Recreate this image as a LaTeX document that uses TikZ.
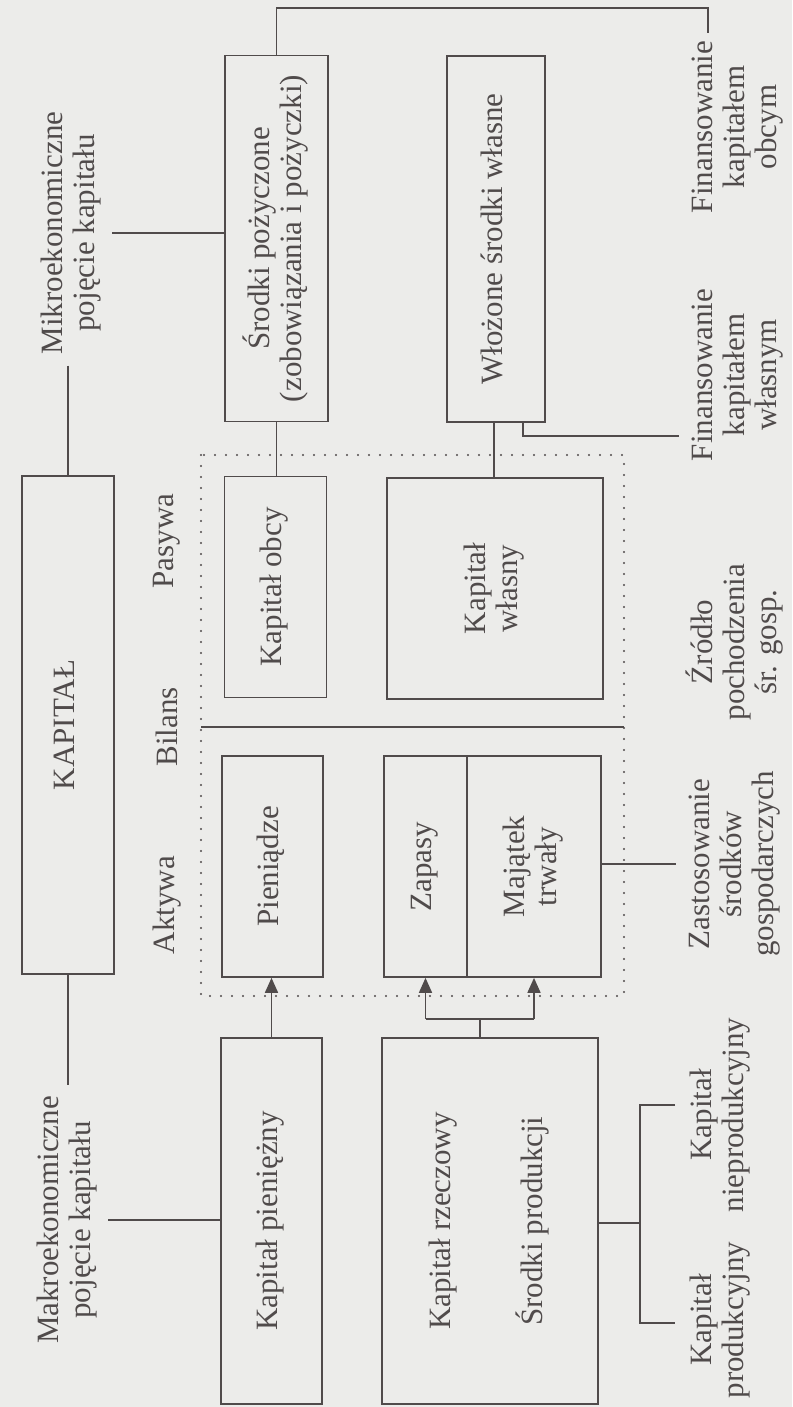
\documentclass[tikz,border=0pt]{standalone}
\usepackage{fontspec}
\setmainfont{Liberation Serif}
\usepackage{graphicx}
\usetikzlibrary{arrows.meta,calc}
\definecolor{paper}{RGB}{236,236,234}
\definecolor{ink}{RGB}{80,75,75}
% text set upright along the box (reading bottom to top)
\newcommand{\sidetext}[1]{\rotatebox{90}{\begin{tabular}{@{}c@{}}#1\end{tabular}}}
\tikzset{
  txt/.style={text=ink, font=\fontsize{31}{32}\selectfont},
  box/.style={txt, draw=ink, line width=1.7pt, inner sep=0pt},
  lbl/.style={txt, rotate=90, align=center, inner sep=0pt},
  conn/.style={draw=ink, line width=1.7pt},
  arr/.style={conn, -{Triangle[length=15pt,width=13pt]}},
  dotframe/.style={draw=ink, line width=2.2pt, dash pattern=on 0pt off 11pt, line cap=round}
}
\begin{document}
\begin{tikzpicture}[x=1pt,y=-1pt]
\fill[paper] (0,0) rectangle (792,1407);
\useasboundingbox (0,0) rectangle (792,1407);

% balance sheet frame
\coordinate (fTL) at (201,455);
\coordinate (fBR) at (624,996);
\draw[dotframe] (fTL) rectangle (fBR);

% boxes
\node[box, minimum width=92pt,  minimum height=498pt] (kapital)   at (68,725)     {\sidetext{KAPITAŁ}};
\node[box, minimum width=103pt, minimum height=366pt] (pozyczone) at (276.5,238.5) {\sidetext{Środki pożyczone\\(zobowiązania i pożyczki)}};
\node[box, minimum width=98pt,  minimum height=366pt] (wlozone)   at (496,239)    {\sidetext{Włożone środki własne}};
\node[box, minimum width=102pt, minimum height=221pt] (obcy)      at (275.5,587)  {\sidetext{Kapitał obcy}};
\node[box, minimum width=216pt, minimum height=221pt] (wlasny)    at (495,588.5)  {\sidetext{Kapitał\\własny}};
\node[box, minimum width=101pt, minimum height=221pt] (pieniadze) at (272.5,866.5) {\sidetext{Pieniądze}};
\node[box, minimum width=83pt,  minimum height=221pt] (zapasy)    at (425.5,866.5) {\sidetext{Zapasy}};
\node[box, minimum width=134pt, minimum height=221pt] (majatek)   at (534,866.5)  {\sidetext{Majątek\\trwały}};
\node[box, minimum width=101pt, minimum height=366pt] (pieniezny) at (271.5,1221) {\sidetext{Kapitał pieniężny}};
\node[box, minimum width=216pt, minimum height=366pt] (rzeczowy)  at (490,1221)   {\sidetext{Kapitał rzeczowy\\[56pt]Środki produkcji}};

% free labels
\node[lbl] (mikro)   at (71,233)   {Mikroekonomiczne\\pojęcie kapitału};
\node[lbl] (makro)   at (67,1220)  {Makroekonomiczne\\pojęcie kapitału};
\node[lbl] (aktywa)  at (167,905)  {Aktywa};
\node[lbl] (bilans)  at (167,727)  {Bilans};
\node[lbl] (pasywa)  at (167,541)  {Pasywa};
\node[lbl] (fobcy)   at (738,127)  {Finansowanie\\kapitałem\\obcym};
\node[lbl] (fwlasny) at (738,375)  {Finansowanie\\kapitałem\\własnym};
\node[lbl] (zrodlo)  at (735,642)  {Źródło\\pochodzenia\\śr. gosp.};
\node[lbl] (zastos)  at (735,864)  {Zastosowanie\\środków\\gospodarczych};
\node[lbl] (nieprod) at (720,1115) {Kapitał\\nieprodukcyjny};
\node[lbl] (prod)    at (720,1320) {Kapitał\\produkcyjny};

% connector end points next to the labels
\coordinate (topbar)  at (0,8);
\coordinate (obcytip) at (708,33);
\coordinate (wltip)   at (679,436);
\coordinate (zastip)  at (676,864);
\coordinate (fork)    at (480,1019);
\coordinate (pbr)     at (640,1223);
\coordinate (nptip)   at (675,1105);
\coordinate (ptip)    at (675,1323);

% assets / liabilities divider
\draw[conn] (fTL |- bilans) -- (fBR |- bilans);

% micro-economic branch
\draw[conn] ($(mikro.south)+(11,0)$) -- (pozyczone.west |- mikro.south);
\draw[conn] ($(kapital.north |- mikro.west)+(0,11)$) -- (kapital.north);
\draw[conn] (pozyczone.north) |- (topbar -| obcytip) -- (obcytip);
\draw[conn] (pozyczone.south) -- (pozyczone.south |- obcy.north);
\draw[conn] ($(wlozone.south)+(-2,0)$) -- ($(wlozone.south |- wlasny.north)+(-2,0)$);
\draw[conn] ($(wlozone.south)+(27,0)$) |- (wltip);

% macro-economic branch
\draw[conn] (kapital.south) -- ($(kapital.south |- makro.east)+(0,-11)$);
\draw[conn] ($(makro.south)+(11,0)$) -- (pieniezny.west |- makro.south);
\draw[arr] (pieniezny.north) -- (pieniezny.north |- pieniadze.south);
\draw[conn] (fork |- rzeczowy.north) -- (fork);
\draw[conn] (zapasy.south |- fork) -- (majatek.south |- fork);
\draw[arr] (zapasy.south |- fork) -- (zapasy.south);
\draw[arr] (majatek.south |- fork) -- (majatek.south);
\draw[conn] (majatek.east |- zastip) -- (zastip);
\draw[conn] (rzeczowy.east |- pbr) -- (pbr);
\draw[conn] (nptip) -| (pbr) |- (ptip);
\end{tikzpicture}
\end{document}
